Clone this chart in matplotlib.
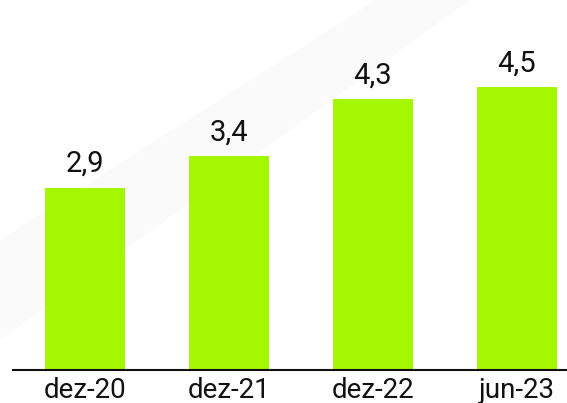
import matplotlib
matplotlib.use("Agg")
import matplotlib.pyplot as plt
from matplotlib.patches import Polygon

categories = ['dez-20', 'dez-21', 'dez-22', 'jun-23']
values = [2.9, 3.4, 4.3, 4.5]
value_labels = ['2,9', '3,4', '4,3', '4,5']

plt.rcParams['font.family'] = ['Roboto', 'DejaVu Sans']

fig = plt.figure(figsize=(5.67, 4.03), dpi=100)

# faint diagonal watermark band in the background
band = Polygon([(376 / 567, 1), (470 / 567, 1), (0, 1 - 340 / 403), (0, 1 - 240 / 403)],
               closed=True, transform=fig.transFigure, facecolor='#fafafa',
               edgecolor='none', zorder=0)
fig.patches.append(band)

ax = fig.add_axes([13 / 567, 33 / 403, 1 - 13 / 567, 370 / 403])
ax.patch.set_alpha(0)
ax.set_zorder(2)

x = range(len(categories))
bars = ax.bar(x, values, width=0.555, color='#a4f700')

for b, lab in zip(bars, value_labels):
    ax.annotate(lab, (b.get_x() + b.get_width() / 2, b.get_height()),
                xytext=(0, 7), textcoords='offset points',
                ha='center', va='bottom', fontsize=21, color='#111111')

ax.set_xlim(-0.5, 3.35)
ax.set_ylim(0, 5.88)
ax.set_xticks(list(x))
ax.set_xticklabels(categories, fontsize=20, color='#111111')
ax.tick_params(axis='x', length=0, pad=5)
ax.set_yticks([])
for s in ['top', 'right', 'left']:
    ax.spines[s].set_visible(False)
ax.spines['bottom'].set_linewidth(1.5)
ax.spines['bottom'].set_color('#111111')

fig.savefig('out.png', dpi=100)
